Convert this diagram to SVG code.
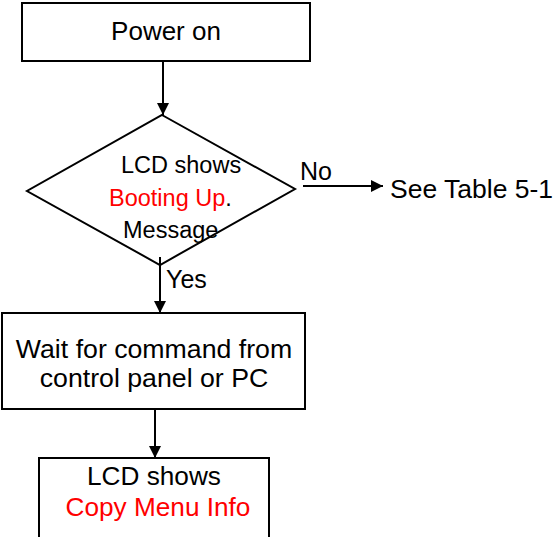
<svg xmlns="http://www.w3.org/2000/svg" width="554" height="537" viewBox="0 0 554 537">
<style>
.box{fill:#fff;stroke:#000;stroke-width:2}
.t{font-family:"Liberation Sans",Arial,sans-serif;fill:#000}
.red{fill:#ff0000}
.c{stroke:#000;stroke-width:2;fill:none}
</style>
<defs>
<marker id="ah" viewBox="0 0 12 12" refX="12" refY="6" markerWidth="12" markerHeight="12" markerUnits="userSpaceOnUse" orient="auto">
<path d="M0,0 L12,6 L0,12 Z" fill="#000"/>
</marker>
</defs>
<rect width="554" height="537" fill="#fff"/>
<g id="power-on">
<rect class="box" x="22" y="3" width="288" height="58"/>
<text class="t" x="166" y="40" font-size="26" text-anchor="middle">Power on</text>
</g>
<g id="lcd-booting">
<polygon class="box" points="162,115 295,189 160,265 27,191"/>
<text class="t" x="121" y="173" font-size="23.5">LCD shows</text>
<text class="t" x="109" y="206" font-size="23.5"><tspan class="red">Booting Up</tspan>.</text>
<text class="t" x="123" y="238" font-size="23.5">Message</text>
</g>
<g id="see-table">
<text class="t" x="390" y="198" font-size="26.5">See Table 5-1</text>
</g>
<g id="wait">
<rect class="box" x="2" y="313" width="303" height="96"/>
<text class="t" x="154" y="358" font-size="26.7" text-anchor="middle">Wait for command from</text>
<text class="t" x="154" y="387" font-size="26.7" text-anchor="middle">control panel or PC</text>
</g>
<g id="lcd-copy">
<rect class="box" x="39" y="458" width="230" height="100"/>
<text class="t" x="154" y="485" font-size="26.2" text-anchor="middle">LCD shows</text>
<text class="t red" x="158" y="516" font-size="26.2" text-anchor="middle">Copy Menu Info</text>
</g>
<g id="connectors">
<line class="c" x1="163" y1="61" x2="163" y2="115" marker-end="url(#ah)"/>
<line class="c" x1="303" y1="186" x2="383" y2="186" marker-end="url(#ah)"/>
<text class="t" x="300" y="180" font-size="25">No</text>
<line class="c" x1="160" y1="257" x2="160" y2="313" marker-end="url(#ah)"/>
<text class="t" x="166" y="288" font-size="25">Yes</text>
<line class="c" x1="155" y1="409" x2="155" y2="458" marker-end="url(#ah)"/>
</g>
</svg>
